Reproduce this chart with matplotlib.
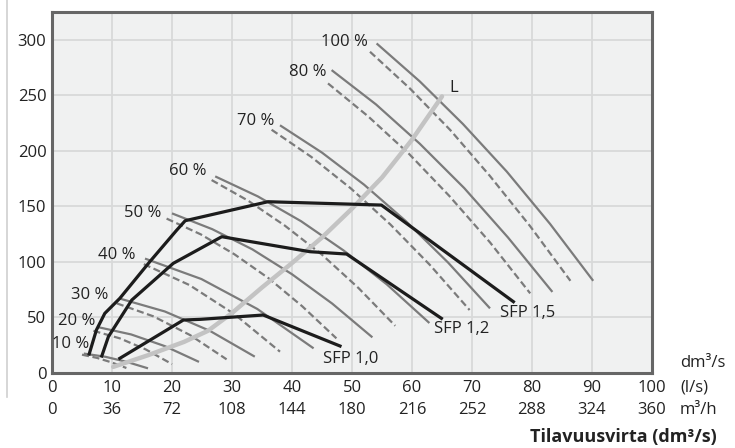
import matplotlib
matplotlib.use("Agg")
import matplotlib.pyplot as plt
from matplotlib.lines import Line2D
from matplotlib.transforms import blended_transform_factory

plt.rcParams['font.family'] = ['Open Sans', 'DejaVu Sans']

# fan speed curves (solid / dashed pairs)
pct_labels = ['10 %', '20 %', '30 %', '40 %', '50 %', '60 %', '70 %', '80 %', '100 %']
pct_label_x = [6.2, 7.3, 9.4, 14.0, 18.3, 25.8, 37.0, 45.7, 52.7]
pct_label_y = [26, 47, 70, 106, 143.7, 182, 227, 271, 298]

solid_x = [[5.3, 8.9, 12.4, 16.0],
           [7.5, 13.2, 18.8, 24.5],
           [11.3, 18.8, 26.3, 33.8],
           [15.5, 24.9, 34.2, 43.6],
           [20.0, 26.7, 33.4, 40.0, 46.7, 53.4],
           [27.2, 34.3, 41.5, 48.6, 55.8, 62.9],
           [38.0, 45.0, 52.0, 59.0, 66.0, 73.0],
           [46.6, 54.0, 61.3, 68.7, 76.0, 83.4],
           [54.1, 61.3, 68.5, 75.8, 83.0, 90.2]]
solid_y = [[17.5, 14.6, 10.1, 4.2],
           [41.5, 34.7, 24.2, 10.0],
           [67.0, 55.4, 38.0, 14.7],
           [103.0, 84.6, 57.7, 22.2],
           [143.7, 129.5, 111.3, 88.9, 62.5, 32.1],
           [177.0, 159.0, 136.7, 110.3, 79.8, 45.0],
           [223.0, 198.4, 169.6, 136.6, 99.5, 58.2],
           [272.7, 241.8, 206.4, 166.5, 122.0, 73.0],
           [296.7, 262.5, 224.1, 181.3, 134.3, 83.0]]

dashed_x = [[5.0, 7.5, 9.9, 12.4],
            [6.9, 11.3, 15.6, 20.0],
            [10.8, 16.9, 23.0, 29.1],
            [15.3, 22.9, 30.4, 38.0],
            [19.1, 24.8, 30.4, 36.1, 41.7, 47.4],
            [26.6, 32.7, 38.8, 45.0, 51.1, 57.2],
            [36.6, 43.2, 49.8, 56.4, 63.0, 69.6],
            [46.0, 52.7, 59.5, 66.2, 73.0, 79.7],
            [53.0, 59.7, 66.4, 73.0, 79.7, 86.4]]
dashed_y = [[16.5, 13.6, 9.6, 4.5],
            [38.0, 31.2, 21.3, 8.0],
            [62.7, 51.0, 34.2, 12.3],
            [98.0, 79.2, 53.0, 19.2],
            [139.0, 124.8, 106.9, 85.3, 60.1, 31.2],
            [173.7, 155.1, 132.7, 106.5, 76.4, 42.5],
            [219.0, 194.6, 166.2, 133.7, 97.2, 56.7],
            [260.7, 231.0, 197.3, 159.5, 117.6, 71.7],
            [289.2, 255.9, 218.6, 177.3, 132.1, 83.0]]

# system curve L
l_x = [10.2, 16, 22, 26, 30, 35, 40, 45, 50, 55, 60, 65]
l_y = [5.5, 16, 28, 38, 54, 77, 99, 122, 148, 176, 210, 249]

# SFP curves
sfp_names = ['SFP 1,0', 'SFP 1,2', 'SFP 1,5']
sfp_x = [[11.3, 21.9, 24.7, 35.2, 48.0],
         [8.3, 9.4, 13.3, 20.2, 28.3, 43.0, 49.1, 64.9],
         [6.2, 7.4, 8.8, 11.3, 16.3, 20.8, 22.2, 36.0, 54.9, 76.9]]
sfp_y = [[13.2, 47.7, 48.3, 52.2, 24.3],
         [15.3, 32.7, 65.7, 98.7, 122.7, 109.2, 107.1, 49.2],
         [17.1, 38.7, 53.7, 67.2, 100.2, 128.7, 137.1, 154.2, 151.2, 64.2]]
sfp_label_x = [45.2, 63.6, 74.7]
sfp_label_y = [12.3, 39.3, 54.3]

x_ticks = [0, 10, 20, 30, 40, 50, 60, 70, 80, 90, 100]
x_ticks_m3h = ['0', '36', '72', '108', '144', '180', '216', '252', '288', '324', '360']
y_ticks = [0, 50, 100, 150, 200, 250, 300]

txt = '#222222'
grey = '#7b7b7b'
fs = 12

fig = plt.figure(figsize=(7.35, 4.48), dpi=100)
ax = fig.add_axes([52/735, 75/448, 600/735, 361/448])
ax.set_facecolor('#f0f1f1')
ax.set_xlim(0, 100)
ax.set_ylim(0, 325)

ax.set_xticks(x_ticks)
ax.set_yticks(y_ticks)
ax.grid(True, color='#d8d9d9', linewidth=1.3)
ax.set_axisbelow(True)
ax.tick_params(length=0, labelsize=fs, colors=txt)
ax.tick_params(axis='x', pad=5)
ax.tick_params(axis='y', pad=4)
for s in ax.spines.values():
    s.set_color('#666666')
    s.set_linewidth(2.2)

# fan curves
for xs, ys in zip(solid_x, solid_y):
    ax.plot(xs, ys, color=grey, lw=1.6, solid_capstyle='butt', zorder=2)
for xs, ys in zip(dashed_x, dashed_y):
    ax.plot(xs, ys, color=grey, lw=1.6, dashes=(3.2, 1.6), zorder=2)
for lab, lx, ly in zip(pct_labels, pct_label_x, pct_label_y):
    ax.text(lx, ly, lab, ha='right', va='center', fontsize=fs, color=txt)

# system curve
ax.plot(l_x, l_y, color='#c3c3c3', lw=3.2, solid_capstyle='round', zorder=3)
ax.text(66.2, 257, 'L', ha='left', va='center', fontsize=fs, color=txt)

# SFP
for xs, ys in zip(sfp_x, sfp_y):
    ax.plot(xs, ys, color='#1c1c1c', lw=2.3, zorder=4)
for lab, lx, ly in zip(sfp_names, sfp_label_x, sfp_label_y):
    ax.text(lx, ly, lab, ha='left', va='center', fontsize=fs, color=txt)

# second row of x labels (m3/h)
tr = blended_transform_factory(ax.transData, ax.transAxes)
for xv, lab in zip(x_ticks, x_ticks_m3h):
    ax.text(xv, -0.102, lab, transform=tr, ha='center', va='center', fontsize=fs, color=txt)

fig.text(680/735, (448-363)/448, 'dm³/s', ha='left', va='center', fontsize=fs, color=txt)
fig.text(680/735, (448-387)/448, '(l/s)', ha='left', va='center', fontsize=fs, color=txt)
fig.text(680/735, (448-410)/448, 'm³/h', ha='left', va='center', fontsize=fs, color=txt)
fig.text(717/735, (448-437)/448, 'Tilavuusvirta (dm³/s)', ha='right', va='center',
         fontsize=13, fontweight='bold', color=txt)

fig.add_artist(Line2D([7/735, 7/735], [(448-397)/448, 1.0], color='#cfcfcf', lw=1.2))

fig.savefig('out.png', dpi=100)
